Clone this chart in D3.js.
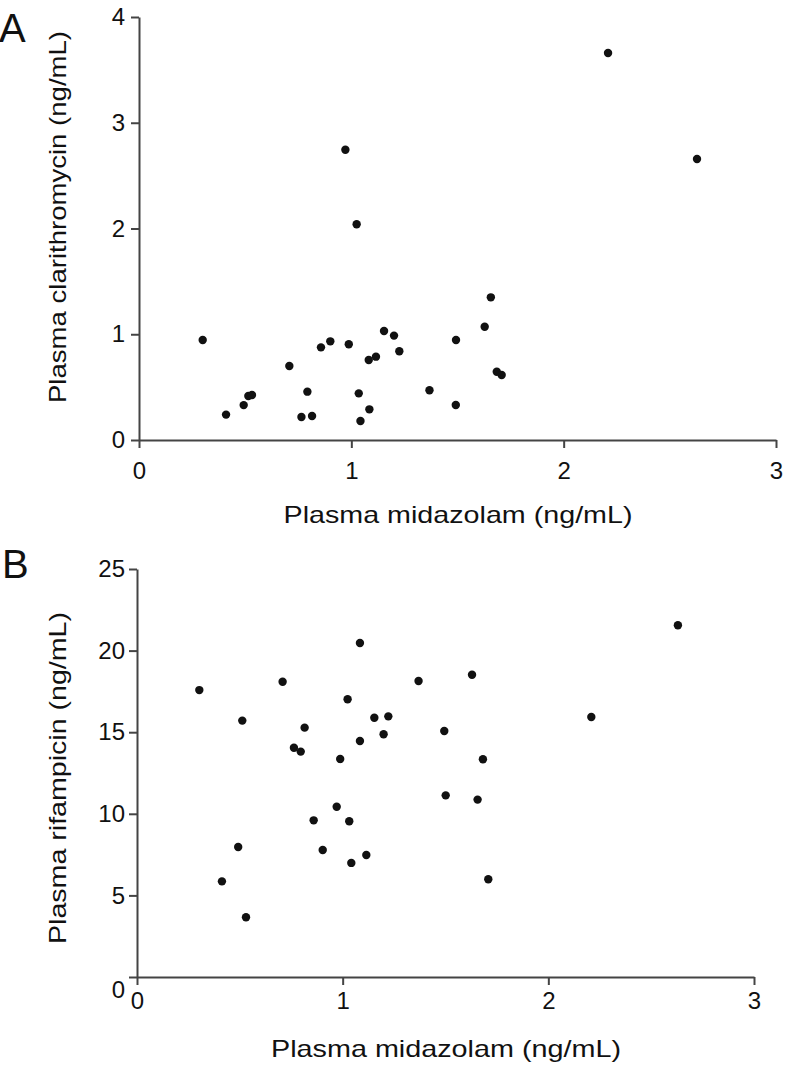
<!DOCTYPE html>
<html>
<head>
<meta charset="utf-8">
<script src="https://cdn.jsdelivr.net/npm/d3@7"></script>
<style>
  html, body { margin: 0; padding: 0; background: #fff; }
  svg { display: block; }
  text { font-family: "Liberation Sans", Arial, Helvetica, sans-serif; fill: #111; }
</style>
</head>
<body>
<svg id="chart" width="786" height="1072"></svg>
<script>
// ---- Data ----
const xTicks = [0, 1, 2, 3];
const yTicksA = [0, 1, 2, 3, 4];
const yTicksB = [0, 5, 10, 15, 20, 25];

// Panel A: plasma midazolam vs plasma clarithromycin
const midazolamA = [0.30, 0.41, 0.493, 0.515, 0.532, 0.708, 0.793, 0.765, 0.815, 0.857, 0.901,
  0.988, 1.035, 1.043, 1.085, 1.082, 1.116, 1.154, 1.201, 1.226, 1.368, 1.493, 1.492,
  2.209, 2.628, 1.657, 1.628, 1.685, 1.708, 0.972, 1.025];
const clarithromycin = [0.946, 0.24, 0.33, 0.416, 0.425, 0.70, 0.457, 0.217, 0.227, 0.876, 0.933,
  0.905, 0.441, 0.18, 0.29, 0.756, 0.788, 1.031, 0.987, 0.839, 0.47, 0.946, 0.331,
  3.66, 2.657, 1.349, 1.071, 0.646, 0.615, 2.745, 2.04];

// Panel B: plasma midazolam vs plasma rifampicin
const midazolamB = [0.303, 0.512, 0.708, 0.815, 0.763, 0.796, 0.988, 1.084, 1.024, 1.084, 1.154,
  1.222, 1.199, 2.630, 1.369, 1.629, 2.209, 1.494, 1.682, 1.501, 1.656, 1.708, 0.492,
  0.413, 0.530, 0.859, 0.971, 1.032, 0.903, 1.042, 1.115];
const rifampicin = [17.58, 15.71, 18.09, 15.28, 14.05, 13.81, 13.36, 20.47, 17.02, 14.46, 15.89,
  15.97, 14.87, 21.55, 18.14, 18.52, 15.93, 15.07, 13.34, 11.13, 10.87, 5.99, 7.97,
  5.86, 3.66, 9.60, 10.43, 9.54, 7.78, 6.99, 7.48];

const xTitle = "Plasma midazolam (ng/mL)";
const yTitleA = "Plasma clarithromycin (ng/mL)";
const yTitleB = "Plasma rifampicin (ng/mL)";

// ---- Drawing ----
const svg = d3.select("#chart");
const AXIS_COLOR = "#444";

function panel(cfg) {
  const x = d3.scaleLinear().domain([0, 3]).range(cfg.xRange);
  const y = d3.scaleLinear().domain(cfg.yDomain).range(cfg.yRange);
  const g = svg.append("g");

  // x axis
  const gx = g.append("g")
    .attr("transform", `translate(0,${cfg.yRange[0]})`)
    .call(d3.axisBottom(x).tickValues(xTicks).tickFormat(d3.format("d"))
      .tickSize(8).tickSizeOuter(0).tickPadding(cfg.xPad));
  // y axis
  const gy = g.append("g")
    .attr("transform", `translate(${cfg.xRange[0]},0)`)
    .call(d3.axisLeft(y).tickValues(cfg.yTicks).tickFormat(d3.format("d"))
      .tickSize(8).tickSizeOuter(0).tickPadding(cfg.yPad));

  [gx, gy].forEach(a => {
    a.select(".domain").attr("stroke", AXIS_COLOR).attr("stroke-width", 2);
    a.selectAll(".tick line").attr("stroke", AXIS_COLOR).attr("stroke-width", 2);
    a.selectAll(".tick text")
      .attr("font-family", '"Liberation Sans", Arial, sans-serif')
      .attr("font-size", 24).attr("fill", "#111");
  });
  if (cfg.zeroDy) {
    gy.selectAll(".tick").filter(d => d === 0).select("text").attr("dy", cfg.zeroDy);
  }

  // points
  g.append("g").selectAll("circle")
    .data(cfg.xs.map((v, i) => [v, cfg.ys[i]]))
    .join("circle")
    .attr("cx", d => x(d[0]))
    .attr("cy", d => y(d[1]))
    .attr("r", 4.2)
    .attr("fill", "#111");

  // x title
  g.append("text")
    .attr("x", cfg.xTitlePos[0]).attr("y", cfg.xTitlePos[1])
    .attr("text-anchor", "middle")
    .attr("font-size", 24)
    .attr("textLength", cfg.xTitleLen).attr("lengthAdjust", "spacingAndGlyphs")
    .text(xTitle);

  // y title
  g.append("text")
    .attr("transform", `translate(${cfg.yTitlePos[0]},${cfg.yTitlePos[1]}) rotate(-90)`)
    .attr("text-anchor", "middle")
    .attr("font-size", 24)
    .attr("textLength", cfg.yTitleLen).attr("lengthAdjust", "spacingAndGlyphs")
    .text(cfg.yTitle);

  // panel letter
  g.append("text")
    .attr("x", cfg.letterPos[0]).attr("y", cfg.letterPos[1])
    .attr("font-size", 40)
    .text(cfg.letter);
}

panel({
  letter: "A", letterPos: [-1, 42],
  xRange: [139, 776], yDomain: [0, 4], yRange: [440, 17], yTicks: yTicksA,
  xs: midazolamA, ys: clarithromycin,
  xPad: 14, yPad: 6,
  xTitlePos: [458, 523], xTitleLen: 349,
  yTitle: yTitleA, yTitlePos: [66, 217], yTitleLen: 372
});

panel({
  letter: "B", letterPos: [2, 578],
  xRange: [137, 754], yDomain: [0, 25], yRange: [977, 569], yTicks: yTicksB,
  xs: midazolamB, ys: rifampicin,
  xPad: 7, yPad: 4, zeroDy: "0.85em",
  xTitlePos: [446, 1057], xTitleLen: 350,
  yTitle: yTitleB, yTitlePos: [66, 778], yTitleLen: 332
});
</script>
</body>
</html>
